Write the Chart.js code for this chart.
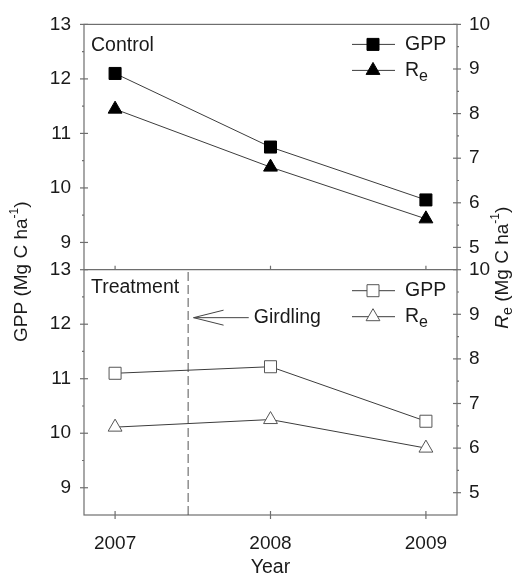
<!DOCTYPE html>
<html>
<head>
<meta charset="utf-8">
<script src="https://cdn.jsdelivr.net/npm/chart.js@4.4.0/dist/chart.umd.min.js"></script>
<style>
  html, body { margin: 0; padding: 0; background: #fff; }
  #wrap { width: 520px; height: 576px; }
</style>
</head>
<body>
<div id="wrap"><canvas id="fluxChart" width="520" height="576"></canvas></div>
<script>
// Annual GPP and ecosystem respiration, control vs girdled plots
const years = [2007, 2008, 2009];
const gppControl = [12.1, 10.75, 9.78];
const reControl = [8.1, 6.8, 5.64];
const gppTreatment = [11.1, 11.22, 10.22];
const reTreatment = [6.47, 6.64, 6.0];

const gppTicks = [9, 10, 11, 12, 13];
const reTicks = [5, 6, 7, 8, 9, 10];
const gppRange = [8.5, 13];
const reRange = [4.5, 10];
const yearRange = [2006.8, 2009.2];
const girdlingYear = 2007.47;

const FONT = 'Arial, "Liberation Sans", sans-serif';
const INK = '#1a1a1a';
const AXIS = '#6e6e6e';
const LINE = '#3c3c3c';

function pts(values) {
    return values.map((v, i) => ({ x: years[i], y: v }));
}

function series(values, axis, style, filled) {
    return {
        data: pts(values),
        yAxisID: axis,
        borderColor: LINE,
        borderWidth: 1,
        tension: 0,
        pointStyle: style,
        pointRadius: style === 'rect' ? 8.5 : 8,
        pointBackgroundColor: filled ? '#000' : '#fff',
        pointBorderColor: filled ? '#000' : '#555',
        pointBorderWidth: 1
    };
}

function yScale(position, stack, weight, range, ticks) {
    return {
        type: 'linear',
        position: position,
        stack: stack,
        stackWeight: 1,
        weight: weight,
        min: range[0],
        max: range[1],
        grid: { display: false, drawTicks: false },
        border: { display: false },
        afterBuildTicks: s => { s.ticks = ticks.map(v => ({ value: v })); },
        afterFit: s => { s.width = position === 'left' ? 84 : 63; },
        ticks: {
            autoSkip: false,
            padding: position === 'left' ? 13 : 12,
            color: INK,
            font: { family: FONT, size: 19 },
            callback: v => String(v)
        }
    };
}

// text made of pieces with their own size / style / baseline shift
function drawRich(ctx, parts, x, y, align) {
    const fontOf = p => (p.italic ? 'italic ' : '') + p.size + 'px ' + FONT;
    let width = 0;
    parts.forEach(p => { ctx.font = fontOf(p); width += ctx.measureText(p.t).width; });
    let cx = align === 'center' ? x - width / 2 : x;
    parts.forEach(p => {
        ctx.font = fontOf(p);
        ctx.fillText(p.t, cx, y + (p.dy || 0));
        cx += ctx.measureText(p.t).width;
    });
}

function seg(ctx, x1, y1, x2, y2) {
    ctx.beginPath();
    ctx.moveTo(x1, y1);
    ctx.lineTo(x2, y2);
    ctx.stroke();
}

function marker(ctx, style, filled, x, y) {
    ctx.beginPath();
    if (style === 'rect') {
        ctx.rect(x - 6, y - 6, 12, 12);
    } else {
        ctx.moveTo(x, y - 8);
        ctx.lineTo(x + 6.9, y + 4);
        ctx.lineTo(x - 6.9, y + 4);
        ctx.closePath();
    }
    ctx.fillStyle = filled ? '#000' : '#fff';
    ctx.fill();
    ctx.strokeStyle = filled ? '#000' : '#555';
    ctx.lineWidth = 1;
    ctx.stroke();
}

const panelDecor = {
    id: 'panelDecor',
    beforeDatasetsDraw(chart) {
        const { ctx, chartArea: a, scales } = chart;
        const mid = scales.gppTop.bottom;
        ctx.save();
        ctx.strokeStyle = AXIS;
        ctx.lineWidth = 1.2;
        ctx.strokeRect(a.left, a.top, a.right - a.left, a.bottom - a.top);
        seg(ctx, a.left, mid, a.right, mid);

        // left ticks, major crossing the axis, minor outside
        [scales.gppTop, scales.gppBottom].forEach(s => {
            gppTicks.forEach(v => {
                const py = s.getPixelForValue(v);
                seg(ctx, a.left - 4, py, a.left + 4, py);
                if (v + 0.5 < s.max) {
                    const my = s.getPixelForValue(v + 0.5);
                    seg(ctx, a.left - 2, my, a.left, my);
                }
            });
        });
        [scales.reTop, scales.reBottom].forEach(s => {
            reTicks.forEach(v => {
                const py = s.getPixelForValue(v);
                seg(ctx, a.right - 4, py, a.right + 4, py);
                if (v + 0.5 < s.max) {
                    const my = s.getPixelForValue(v + 0.5);
                    seg(ctx, a.right, my, a.right + 2, my);
                }
            });
        });
        years.forEach(v => {
            const px = scales.x.getPixelForValue(v);
            seg(ctx, px, a.bottom - 4, px, a.bottom + 4);
            seg(ctx, px, mid - 4, px, mid);
        });
        ctx.restore();
    },
    afterDatasetsDraw(chart) {
        const { ctx, chartArea: a, scales } = chart;
        const mid = scales.gppTop.bottom;
        const x = scales.x;
        const yb = scales.gppBottom;
        ctx.save();
        ctx.fillStyle = INK;
        ctx.textBaseline = 'middle';
        ctx.textAlign = 'left';

        // panel names
        ctx.font = '19.5px ' + FONT;
        ctx.fillText('Control', a.left + 7, a.top + 21);
        ctx.fillText('Treatment', a.left + 7, mid + 18);

        // legends
        const rows = [
            [a.top + 20, 'rect', true, [{ t: 'GPP', size: 19.5 }]],
            [a.top + 46, 'triangle', true, [{ t: 'R', size: 19.5 }, { t: 'e', size: 16, dy: 6 }]],
            [mid + 21, 'rect', false, [{ t: 'GPP', size: 19.5 }]],
            [mid + 47, 'triangle', false, [{ t: 'R', size: 19.5 }, { t: 'e', size: 16, dy: 6 }]]
        ];
        rows.forEach(([ry, style, filled, label]) => {
            ctx.strokeStyle = LINE;
            ctx.lineWidth = 1;
            seg(ctx, a.right - 105, ry, a.right - 62, ry);
            marker(ctx, style, filled, a.right - 84, ry);
            ctx.fillStyle = INK;
            drawRich(ctx, label, a.right - 52, ry, 'left');
        });

        // girdling arrow
        const tipX = x.getPixelForValue(girdlingYear + 0.035);
        const tailX = x.getPixelForValue(girdlingYear + 0.39);
        const ay = yb.getPixelForValue(12.12);
        ctx.strokeStyle = '#444';
        ctx.lineWidth = 1;
        seg(ctx, tipX, ay, tailX, ay);
        seg(ctx, tipX, ay, tipX + 30, ay - 7.5);
        seg(ctx, tipX, ay, tipX + 30, ay + 7.5);
        ctx.fillStyle = INK;
        ctx.font = '19.5px ' + FONT;
        ctx.fillText('Girdling', tailX + 5, ay);

        // axis titles
        ctx.textAlign = 'left';
        ctx.save();
        ctx.translate(22, (a.top + a.bottom) / 2 + 2);
        ctx.rotate(-Math.PI / 2);
        drawRich(ctx, [
            { t: 'GPP (Mg C ha', size: 19 },
            { t: '-1', size: 12, dy: -7 },
            { t: ')', size: 19 }
        ], 0, 0, 'center');
        ctx.restore();

        ctx.save();
        ctx.translate(503, (a.top + a.bottom) / 2 - 2);
        ctx.rotate(-Math.PI / 2);
        drawRich(ctx, [
            { t: 'R', size: 19, italic: true },
            { t: 'e', size: 14, dy: 5 },
            { t: ' (Mg C ha', size: 19 },
            { t: '-1', size: 12, dy: -7 },
            { t: ')', size: 19 }
        ], 0, 0, 'center');
        ctx.restore();

        ctx.textAlign = 'center';
        ctx.font = '19.5px ' + FONT;
        ctx.fillText('Year', (a.left + a.right) / 2, 568);
        ctx.restore();
    }
};

new Chart(document.getElementById('fluxChart'), {
    type: 'line',
    data: {
        datasets: [
            series(gppControl, 'gppTop', 'rect', true),
            series(reControl, 'reTop', 'triangle', true),
            series(gppTreatment, 'gppBottom', 'rect', false),
            series(reTreatment, 'reBottom', 'triangle', false),
            {
                // girdling date
                data: [{ x: girdlingYear, y: gppRange[0] }, { x: girdlingYear, y: gppRange[1] }],
                yAxisID: 'gppBottom',
                borderColor: '#555',
                borderWidth: 1,
                borderDash: [9, 4],
                pointRadius: 0
            }
        ]
    },
    options: {
        responsive: false,
        animation: false,
        devicePixelRatio: 1,
        layout: { padding: { top: 19, left: 0, right: 0, bottom: 0 } },
        plugins: {
            legend: { display: false },
            tooltip: { enabled: false }
        },
        scales: {
            x: {
                type: 'linear',
                min: yearRange[0],
                max: yearRange[1],
                grid: { display: false, drawTicks: false },
                border: { display: false },
                afterBuildTicks: s => { s.ticks = years.map(v => ({ value: v })); },
                afterFit: s => { s.height = 61; },
                ticks: {
                    autoSkip: false,
                    maxRotation: 0,
                    padding: 17,
                    color: INK,
                    font: { family: FONT, size: 19 },
                    callback: v => String(v)
                }
            },
            gppTop: yScale('left', 'gppStack', 1, gppRange, gppTicks),
            gppBottom: yScale('left', 'gppStack', 0, gppRange, gppTicks),
            reTop: yScale('right', 'reStack', 0, reRange, reTicks),
            reBottom: yScale('right', 'reStack', 1, reRange, reTicks)
        }
    },
    plugins: [panelDecor]
});
</script>
</body>
</html>
